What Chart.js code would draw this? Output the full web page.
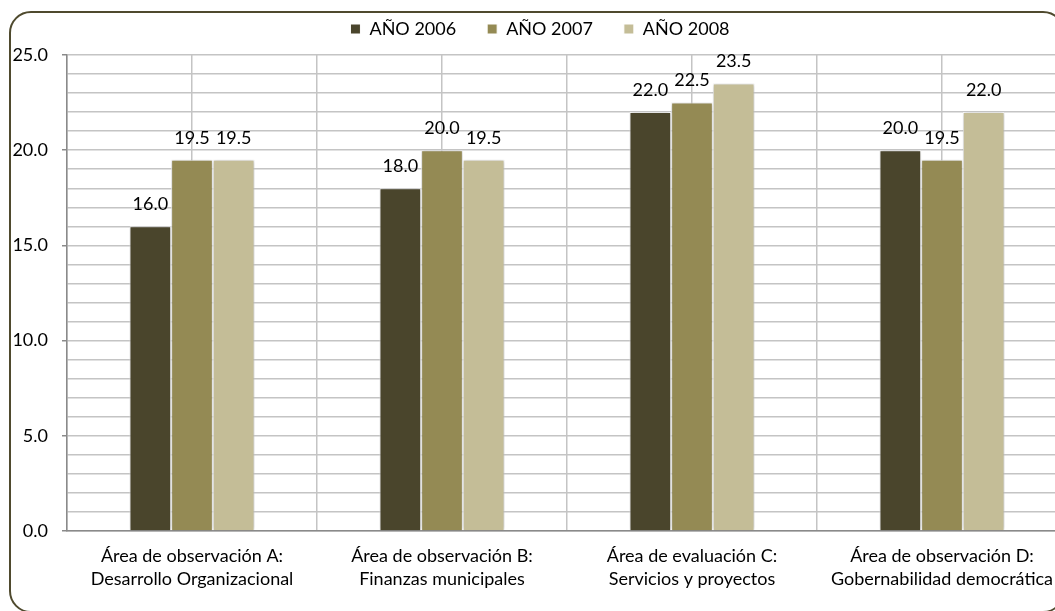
<!DOCTYPE html>
<html>
<head>
<meta charset="utf-8">
<title>Áreas de observación 2006-2008</title>
<script src="https://cdn.jsdelivr.net/npm/chart.js@4.4.0/dist/chart.umd.min.js"></script>
<style>
   html, body {
      margin: 0;
      padding: 0;
      width: 1055px;
      height: 611px;
      overflow: hidden;
      background: #fff;
   }
   #frame {
      position: absolute;
      left: 9px;
      top: 11px;
      width: 1052px;
      height: 598px;
      border: 2px solid #4f4a2e;
      border-radius: 22px;
   }
   #areasChart {
      position: absolute;
      left: 0;
      top: -11px;
   }
</style>
</head>
<body>
<div id="frame"></div>
<canvas id="areasChart" width="1080" height="622"></canvas>
<script>
'use strict';

/*global Chart*/
var categories = [
   ['Área de observación A:', 'Desarrollo Organizacional'],
   ['Área de observación B:', 'Finanzas municipales'],
   ['Área de evaluación C:', 'Servicios y proyectos'],
   ['Área de observación D:', 'Gobernabilidad democrática']
];
var seriesNames = ['AÑO 2006', 'AÑO 2007', 'AÑO 2008'];
var values2006 = [16.0, 18.0, 22.0, 20.0];
var values2007 = [19.5, 20.0, 22.5, 19.5];
var values2008 = [19.5, 19.5, 23.5, 22.0];
var seriesColors = ['#4a452c', '#948a54', '#c4bd97'];
var yMin = 0;
var yMax = 25;
var yStep = 1;
var yLabelEvery = 5;

var fontFamily = 'Lato, "Open Sans", sans-serif';
var gridColor = '#c4c4c4';
var axisColor = '#8a8a8a';

// soft halo round the bars, like the office-style chart
var barShadow = {
   id: 'barShadow',
   beforeDatasetsDraw: function(chart) {
      var ctx = chart.ctx;
      ctx.save();
      ctx.shadowColor = 'rgba(0, 0, 0, 0.28)';
      ctx.shadowBlur = 4;
   },
   afterDatasetsDraw: function(chart) {
      chart.ctx.restore();
   }
};

// value written above every bar
var valueLabels = {
   id: 'valueLabels',
   afterDatasetsDraw: function(chart) {
      var ctx = chart.ctx;
      ctx.save();
      ctx.font = '18px ' + fontFamily;
      ctx.fillStyle = '#000';
      ctx.textAlign = 'center';
      ctx.textBaseline = 'middle';
      chart.data.datasets.forEach(function(ds, i) {
         var meta = chart.getDatasetMeta(i);
         meta.data.forEach(function(bar, j) {
            ctx.fillText(ds.data[j].toFixed(1), bar.x, bar.y - 22);
         });
      });
      ctx.restore();
   }
};

var allValues = [values2006, values2007, values2008];
var datasets = seriesNames.map(function(name, i) {
   return {
      label: name,
      data: allValues[i],
      backgroundColor: seriesColors[i],
      borderColor: '#ffffff',
      borderWidth: 1,
      categoryPercentage: 0.5,
      barPercentage: 1.0
   };
});

var ctx = document.getElementById('areasChart');
var areasChart = new Chart(ctx, {
   type: 'bar',
   data: {
      labels: categories,
      datasets: datasets
   },
   plugins: [barShadow, valueLabels],
   options: {
      responsive: false,
      animation: false,
      devicePixelRatio: 1,
      layout: {
         padding: { top: 0, left: 13, right: 13, bottom: 0 }
      },
      plugins: {
         tooltip: { enabled: false },
         legend: {
            position: 'top',
            labels: {
               boxWidth: 10,
               boxHeight: 10,
               padding: 31,
               color: '#000',
               font: { family: fontFamily, size: 18 }
            }
         }
      },
      scales: {
         x: {
            offset: true,
            grid: {
               offset: true,
               color: gridColor,
               lineWidth: 1.5,
               drawTicks: false
            },
            border: { color: axisColor, width: 1.5 },
            ticks: {
               color: '#000',
               padding: 14,
               maxRotation: 0,
               autoSkip: false,
               font: { family: fontFamily, size: 18, lineHeight: 1.28 }
            },
            afterFit: function(scale) {
               scale.height = 80;
            }
         },
         // second category scale: lines through the group centres, and a small gap under the legend
         x2: {
            type: 'category',
            position: 'top',
            labels: categories,
            offset: true,
            grid: {
               offset: false,
               color: gridColor,
               lineWidth: 1.5,
               drawTicks: false
            },
            border: { display: false },
            ticks: { display: false },
            afterFit: function(scale) {
               scale.height = 7;
            }
         },
         y: {
            min: yMin,
            max: yMax,
            grid: {
               color: gridColor,
               lineWidth: 1.5,
               tickLength: 5,
               tickColor: function(c) {
                  return c.tick && c.tick.value % yLabelEvery === 0 ? axisColor : 'rgba(0,0,0,0)';
               }
            },
            border: { color: axisColor, width: 1.5 },
            ticks: {
               stepSize: yStep,
               autoSkip: false,
               padding: 14,
               color: '#000',
               font: { family: fontFamily, size: 18 },
               callback: function(v) {
                  return v % yLabelEvery === 0 ? v.toFixed(1) : '';
               }
            },
            afterFit: function(scale) {
               scale.width = 54;
            }
         }
      }
   }
});
</script>
</body>
</html>
